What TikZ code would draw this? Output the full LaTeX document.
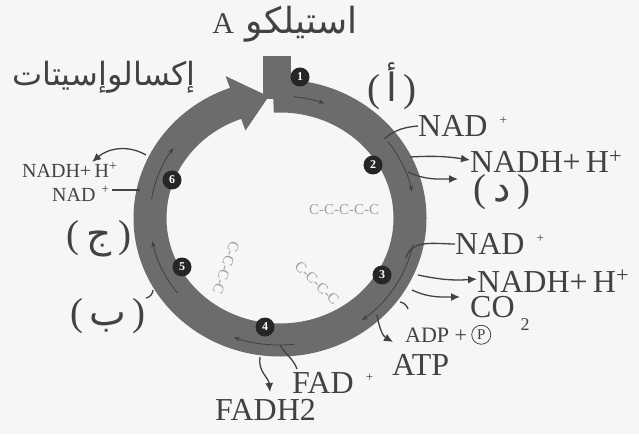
\documentclass[tikz,border=0pt]{standalone}
\usepackage{xcolor}
\usepackage{fontspec}
\setmainfont{Liberation Serif}
\newfontfamily\arabicfont[Script=Arabic]{DejaVu Sans}
\TeXXeTstate=1
\usepackage{tikz}
\usetikzlibrary{arrows.meta, positioning}

\definecolor{ringgray}{RGB}{108,108,108}
\definecolor{inkgray}{RGB}{66,66,66}
\definecolor{chaingray}{RGB}{160,160,160}
\definecolor{paper}{RGB}{246,246,244}

% small plus set apart and raised
\newcommand{\farplus}[2]{\hspace{#1}\raisebox{#2}{\fontsize{13}{13}\selectfont +}}

\begin{document}
\begin{tikzpicture}[x=1pt, y=1pt,
        ringbody/.style={draw=ringgray, line width=33pt},
        stepnum/.style={circle, fill=black!85, text=white, inner sep=0pt, minimum size=19pt,
            font=\fontsize{12}{12}\selectfont\bfseries},
        labelbig/.style={text=inkgray, inner sep=0pt, font=\fontsize{32}{34}\selectfont},
        labelmid/.style={text=inkgray, inner sep=0pt, font=\fontsize{22}{24}\selectfont},
        labelsmall/.style={text=inkgray, inner sep=0pt, font=\fontsize{20}{22}\selectfont},
        arabword/.style={text=inkgray, inner sep=0pt, font=\arabicfont\fontsize{36}{40}\selectfont},
        letterlabel/.style={text=inkgray, inner sep=0pt, font=\fontsize{39}{42}\selectfont},
        chain/.style={text=chaingray, inner sep=0pt, font=\fontsize{15}{15}\selectfont},
        link/.style={draw=inkgray, line width=1.3pt},
        flow/.style={draw=inkgray, line width=1.3pt, -{Latex[length=9pt,width=8pt]}},
        track/.style={draw=black!75, line width=0.8pt, -{Stealth[length=6pt,width=4.5pt]}}]

        \fill[paper] (0,0) rectangle (639,434);

        % the cycle
        \coordinate (C) at (280,216);
        \draw[ringbody] ([shift={(93:130 and 122)}]C) arc[start angle=93, end angle=-254, x radius=130, y radius=122];
        \fill[ringgray] ([shift={(110:159 and 151)}]C) -- ([shift={(95:130 and 122)}]C)
            -- ([shift={(110:101 and 93)}]C) -- cycle;
        \fill[ringgray] (263,335) rectangle (291,378);

        % flow inside the ring
        \draw[track] ([shift={(84:130 and 122)}]C) arc[start angle=84, end angle=70, x radius=130, y radius=122];
        \draw[track] ([shift={(37:135 and 127)}]C) arc[start angle=37, end angle=12, x radius=135, y radius=127];
        \draw[track] ([shift={(-12:136 and 128)}]C) arc[start angle=-12, end angle=-53, x radius=136, y radius=128];
        \draw[track] ([shift={(-84:135 and 127)}]C) arc[start angle=-84, end angle=-110, x radius=135, y radius=127];
        \draw[track] ([shift={(218:130 and 122)}]C) arc[start angle=218, end angle=191, x radius=130, y radius=122];
        \draw[track] ([shift={(171:130 and 122)}]C) arc[start angle=171, end angle=145, x radius=130, y radius=122];

        % steps
        \node[stepnum] (s1) at (300,357) {1};
        \node[stepnum] (s2) at (373,269) {2};
        \node[stepnum] (s3) at (382,159) {3};
        \node[stepnum] (s4) at (265,107) {4};
        \node[stepnum] (s5) at (182,167) {5};
        \node[stepnum] (s6) at (172,254) {6};

        % carbon chains
        \node[chain] (c5) at (344,224) {C-C-C-C-C};
        \node[chain, rotate=-44] (c4a) at (317,151) {C-C-C-C};
        \node[chain, rotate=-109] (c4b) at (226,166) {C-C-C-C};

        % arabic names
        \node[arabword, anchor=east] (acetyl) at (358,410) {\beginR استيلكو {\rmfamily\fontsize{30}{30}\selectfont A}\endR};
        \node[arabword, font=\arabicfont\fontsize{32}{36}\selectfont] (oxalo) at (104,357) {\beginR إكسالوإسيتات\endR};
        \node[letterlabel] (lA) at (392,348) {(\,{\arabicfont أ}\,)};
        \node[letterlabel] (lD) at (502,242) {(\,{\arabicfont د}\,)};
        \node[letterlabel] (lJ) at (99,195) {(\,{\arabicfont ج}\,)};
        \node[letterlabel] (lB) at (108,118) {(\,{\arabicfont ب}\,)};

        % right side
        \node[labelbig, anchor=base west] (nadA) at (418,297) {NAD\farplus{12pt}{12pt}};
        \node[labelbig, anchor=base west] (nadhA) at (470,261) {NADH+\,H\textsuperscript{+}};
        \node[labelbig, anchor=base west] (nadB) at (455,179) {NAD\farplus{12pt}{12pt}};
        \node[labelbig, anchor=base west] (nadhB) at (477,142) {NADH+\,H\textsuperscript{+}};
        \node[labelbig, anchor=base west] (co2) at (470,117) {CO\hspace{6pt}\raisebox{-13pt}{\fontsize{18}{18}\selectfont 2}};
        \node[labelmid, anchor=base west] (adp) at (405,92) {ADP +};
        \node[circle, draw=inkgray, line width=0.8pt, inner sep=2.2pt, text=inkgray,
            font=\fontsize{15}{15}\selectfont] (pcirc) [right=4pt of adp] {P};
        \node[labelbig, anchor=base west] (atp) at (392,59) {ATP};
        \node[labelbig, anchor=base west] (fad) at (292,41) {FAD\farplus{12pt}{12pt}};
        \node[labelbig, anchor=base west] (fadh2) at (215,14) {FADH2};

        % left side
        \node[labelsmall, anchor=base west] (nadhC) at (22,256) {NADH+\,H\textsuperscript{+}};
        \node[labelsmall, anchor=base west] (nadC) at (52,232) {NAD\farplus{6pt}{8pt}};

        % ends on the ring
        \coordinate (rA) at (384,295);
        \coordinate (rB) at (410,277);
        \coordinate (rC) at (408,262);
        \coordinate (dEnd) at (458,255);
        \coordinate (rD) at (406,176);
        \coordinate (rE) at (418,159);
        \coordinate (rF) at (412,144);
        \coordinate (co2End) at (460,137);
        \coordinate (rG) at (377,119);
        \coordinate (atpEnd) at (393,92);
        \coordinate (rH) at (400,132);
        \coordinate (adpEnd) at (408,125);
        \coordinate (rI) at (280,89);
        \coordinate (rJ) at (260,77);
        \coordinate (rK) at (140,244);
        \coordinate (rL) at (146,279);
        \coordinate (rM) at (153,144);

        \path
        (rA) edge [link, out=40, in=185] ([yshift=11pt]nadA.base west)
        (rB) edge [flow, bend left=6] ([yshift=13pt]nadhA.base west)
        (rC) edge [flow, out=-25, in=180] (dEnd)
        (rD) edge [link, out=75, in=180] ([yshift=11pt]nadB.base west)
        (rE) edge [flow, bend right=8] ([yshift=13pt]nadhB.base west)
        (rF) edge [flow, out=-25, in=180] (co2End)
        (rG) edge [flow, out=-80, in=150] (atpEnd)
        (rH) edge [link, bend left=30] (adpEnd)
        (rI) edge [link, out=-60, in=110] ([xshift=5pt, yshift=24pt]fad.base west)
        (rJ) edge [flow, out=-100, in=95] ([xshift=55pt, yshift=28pt]fadh2.base west)
        ([xshift=3pt, yshift=12pt]nadC.base east) edge [link] (rK)
        (rL) edge [flow, out=150, in=40] ([xshift=70pt, yshift=16pt]nadhC.base west)
        (rM) edge [link, bend left=35] (lB.north east);

\end{tikzpicture}
\end{document}
